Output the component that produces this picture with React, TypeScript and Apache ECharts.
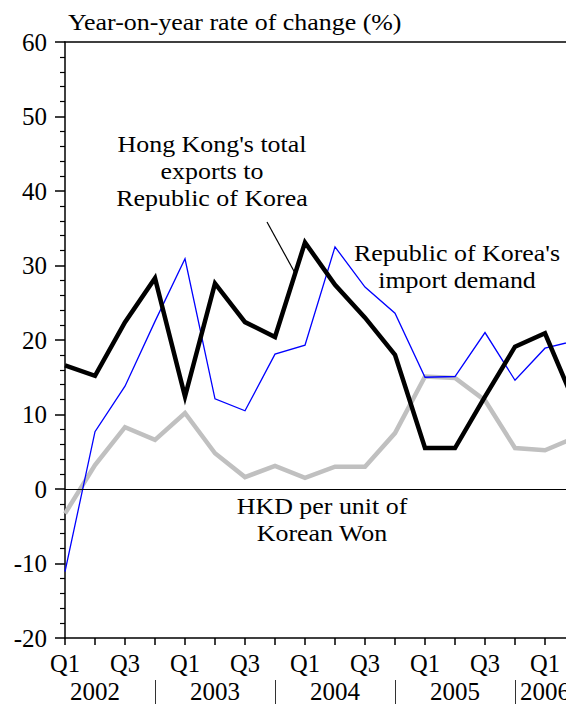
import React, { useEffect, useRef } from "react";
import * as echarts from "echarts";

const years = ["2002", "2003", "2004", "2005", "2006"];
const quarters = ["Q1", "Q2", "Q3", "Q4"];
// 2002 Q1 .. 2006 Q2
const hkExports = [16.6, 15.2, 22.4, 28.3, 12.4, 27.6, 22.4, 20.4, 33.1, 27.4, 23.0, 18.0, 5.5, 5.5, 12.4, 19.1, 20.9, 11.4];
const koreaImports = [-11.1, 7.7, 13.8, 22.5, 30.9, 12.1, 10.5, 18.1, 19.3, 32.5, 27.1, 23.6, 15.0, 15.1, 21.0, 14.6, 18.9, 19.9];
const hkdPerWon = [-3.3, 3.2, 8.3, 6.6, 10.2, 4.8, 1.6, 3.1, 1.5, 3.0, 3.0, 7.5, 15.1, 14.9, 11.9, 5.5, 5.2, 6.9];
const yTicks = { min: -20, max: 60, interval: 10 };

const categories: string[] = [];
years.forEach((y) => quarters.forEach((q) => categories.push(y + " " + q)));
const cats = categories.slice(0, hkExports.length);

const FONT = "'Liberation Serif', 'Times New Roman', 'DejaVu Serif', serif";
const annoStyle = { fontSize: 24, lineHeight: 27, fontFamily: FONT, fill: "#000", align: "center" as const };

export default function App() {
  const ref = useRef<HTMLDivElement>(null);
  useEffect(() => {
    if (!ref.current) return;
    const chart = echarts.init(ref.current, null, { renderer: "svg" });
    const lastYearStart = cats.findIndex((c) => c.startsWith(years[years.length - 1]));
    chart.setOption({
      animation: false,
      backgroundColor: "#fff",
      textStyle: { fontFamily: FONT, color: "#000" },
      grid: { left: 65, right: -9, top: 42, bottom: 66, containLabel: false, outerBoundsMode: "none" },
      xAxis: [
        {
          type: "category",
          data: cats,
          boundaryGap: false,
          position: "bottom",
          axisLine: { show: true, onZero: false, lineStyle: { color: "#000", width: 1.5 } },
          axisTick: { show: true, interval: 0, length: 7, lineStyle: { color: "#000", width: 1.5 } },
          axisLabel: {
            interval: 0,
            margin: 13,
            fontSize: 24.5,
            fontFamily: FONT,
            color: "#000",
            formatter: (v: string) => {
              const q = v.split(" ")[1];
              return q === "Q1" || q === "Q3" ? q : "";
            },
          },
          splitLine: { show: false },
        },
        {
          type: "category",
          data: cats,
          boundaryGap: false,
          position: "bottom",
          offset: 42,
          axisLine: { show: false, onZero: false },
          axisTick: {
            show: true,
            interval: (i: number) => i % 4 === 3,
            length: 26,
            lineStyle: { color: "#333", width: 1 },
          },
          axisLabel: {
            interval: 0,
            margin: -1,
            fontSize: 25,
            fontFamily: FONT,
            color: "#000",
            formatter: (v: string, i: number) => {
              const [y, q] = v.split(" ");
              if (i >= lastYearStart) return q === "Q1" ? y : "";
              return q === "Q2" ? y : "";
            },
          },
          splitLine: { show: false },
        },
        {
          type: "category",
          data: cats,
          boundaryGap: false,
          position: "top",
          axisLine: { show: true, onZero: false, lineStyle: { color: "#000", width: 1.5 } },
          axisTick: { show: false },
          axisLabel: { show: false },
          splitLine: { show: false },
        },
      ],
      yAxis: {
        type: "value",
        min: yTicks.min,
        max: yTicks.max,
        interval: yTicks.interval,
        axisLine: { show: true, onZero: false, lineStyle: { color: "#000", width: 1.5 } },
        axisTick: { show: true, length: 10, inside: false, lineStyle: { color: "#000", width: 1.5 } },
        minorTick: { show: true, splitNumber: 5, length: 5, lineStyle: { color: "#000", width: 1.2 } },
        axisLabel: { margin: 18, fontSize: 25, fontFamily: FONT, color: "#000" },
        splitLine: { show: false },
        minorSplitLine: { show: false },
      },
      series: [
        {
          name: "HKD per unit of Korean Won",
          type: "line",
          data: hkdPerWon,
          symbol: "none",
          lineStyle: { color: "#c0c0c0", width: 4.5, join: "miter" },
          z: 2,
        },
        {
          name: "Republic of Korea's import demand",
          type: "line",
          data: koreaImports,
          symbol: "none",
          lineStyle: { color: "#0000ff", width: 1.3, join: "miter" },
          z: 3,
        },
        {
          name: "Hong Kong's total exports to Republic of Korea",
          type: "line",
          data: hkExports,
          symbol: "none",
          lineStyle: { color: "#000", width: 4.5, join: "miter" },
          z: 4,
          markLine: {
            silent: true,
            symbol: ["none", "none"],
            label: { show: false },
            lineStyle: { color: "#000", width: 1.2, type: "solid" },
            data: [{ yAxis: 0 }],
          },
        },
      ],
      graphic: [
        {
          type: "text",
          x: 68,
          y: 10,
          scaleX: 1.08,
          style: { text: "Year-on-year rate of change (%)", fontSize: 24, fontFamily: FONT, fill: "#000", align: "left", verticalAlign: "top" },
        },
        {
          type: "text",
          x: 212,
          y: 130,
          scaleX: 1.08,
          style: { ...annoStyle, text: "Hong Kong's total\nexports to\nRepublic of Korea" },
        },
        {
          type: "line",
          shape: { x1: 267, y1: 222, x2: 295, y2: 273 },
          style: { stroke: "#000", lineWidth: 1.2 },
          z: 10,
        },
        {
          type: "text",
          x: 457,
          y: 239,
          scaleX: 1.08,
          style: { ...annoStyle, text: "Republic of Korea's\nimport demand" },
        },
        {
          type: "text",
          x: 322,
          y: 492,
          scaleX: 1.08,
          style: { ...annoStyle, text: "HKD per unit of\nKorean Won" },
        },
      ],
    });
    return () => chart.dispose();
  }, []);
  return <div ref={ref} style={{ position: "fixed", left: 0, top: 0, width: 566, height: 704 }} />;
}
